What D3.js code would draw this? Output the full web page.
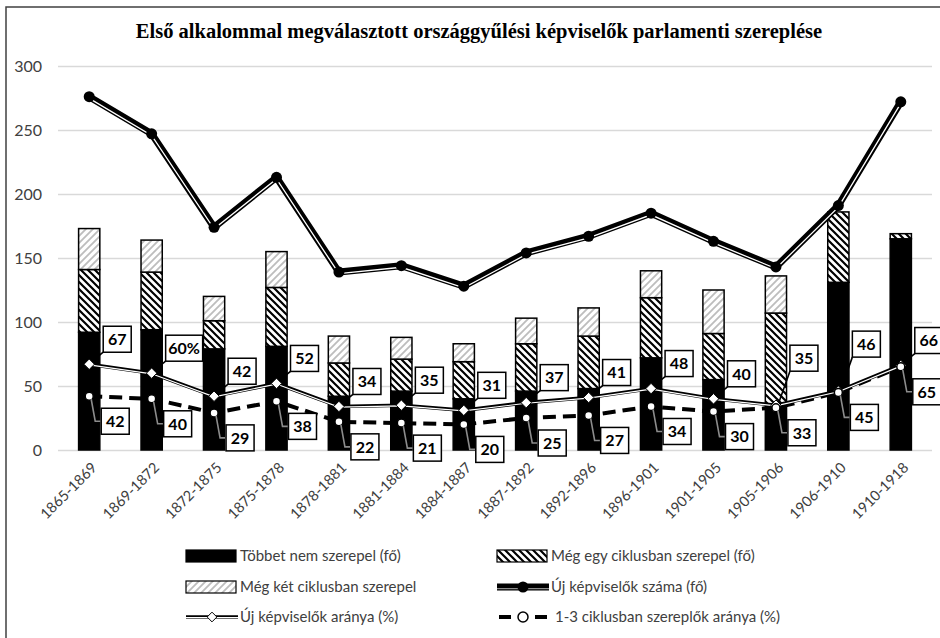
<!DOCTYPE html>
<html>
<head>
<meta charset="utf-8">
<script src="https://cdn.jsdelivr.net/npm/d3@7"></script>
<style>
  body { margin: 0; background: #fff; }
  text { font-family: Lato, 'Open Sans', sans-serif; }
</style>
</head>
<body>
<script>
// data
const categories = ["1865-1869", "1869-1872", "1872-1875", "1875-1878", "1878-1881", "1881-1884", "1884-1887",
  "1887-1892", "1892-1896", "1896-1901", "1901-1905", "1905-1906", "1906-1910", "1910-1918"];
const notAgain = [92, 94, 79, 81, 42, 46, 40, 46, 48, 72, 55, 36, 131, 165];   // Többet nem szerepel (fő)
const oneMore = [49, 45, 22, 46, 26, 25, 29, 37, 41, 47, 36, 71, 55, 4];       // Még egy ciklusban szerepel (fő)
const twoMore = [32, 25, 19, 28, 21, 17, 14, 20, 22, 21, 34, 29, 0, 0];        // Még két ciklusban szerepel
const newMembers = [276, 247, 174, 213, 139, 144, 128, 154, 167, 185, 163, 143, 191, 272]; // Új képviselők száma (fő)
const newShare = [67, 60, 42, 52, 34, 35, 31, 37, 41, 48, 40, 35, 46, 66];     // Új képviselők aránya (%)
const shortShare = [42, 40, 29, 38, 22, 21, 20, 25, 27, 34, 30, 33, 45, 65];   // 1-3 ciklusban szereplők aránya (%)
const yTicks = [0, 50, 100, 150, 200, 250, 300];

const title = "Első alkalommal megválasztott országgyűlési képviselők parlamenti szereplése";

let svg = null;
let x, y = null; // scales
const plot = {left: 58, right: 932, top: 66, bottom: 450};

appendSvg("body");
appendPatterns();
setupScales();
appendGrid();
appendYAxis();
appendXAxis();
appendBars();
appendLines();
appendLabels();
appendLegend();
appendTitle();

function appendSvg(domElement) {
  svg = d3.select(domElement).append("svg")
    .attr("width", 940)
    .attr("height", 638);
  svg.append("rect")
    .attr("x", 6).attr("y", 7)
    .attr("width", 960).attr("height", 660)
    .attr("fill", "#fff")
    .attr("stroke", "#404040")
    .attr("stroke-width", 1.5);
}

function appendPatterns() {
  const defs = svg.append("defs");
  // wide downward diagonal, black
  const dn = defs.append("pattern").attr("id", "dnDiag")
    .attr("patternUnits", "userSpaceOnUse").attr("width", 7).attr("height", 7);
  dn.append("rect").attr("width", 7).attr("height", 7).attr("fill", "#fff");
  dn.append("path").attr("d", "M-1,-1 L8,8 M-4.5,2.5 L1.5,8.5 M2.5,-4.5 L8.5,1.5")
    .attr("stroke", "#000").attr("stroke-width", 2.2);
  // light upward diagonal, grey
  const up = defs.append("pattern").attr("id", "upDiag")
    .attr("patternUnits", "userSpaceOnUse").attr("width", 7).attr("height", 7);
  up.append("rect").attr("width", 7).attr("height", 7).attr("fill", "#fff");
  up.append("path").attr("d", "M-1,8 L8,-1 M-4.5,4.5 L1.5,-1.5 M5.5,8.5 L8.5,5.5")
    .attr("stroke", "#bdbdbd").attr("stroke-width", 1.8);
}

function setupScales() {
  x = d3.scaleBand()
    .domain(categories)
    .range([plot.left, plot.right])
    .paddingInner(0.66)
    .paddingOuter(0.33);
  y = d3.scaleLinear()
    .domain([0, 300])
    .range([plot.bottom, plot.top]);
}

function cx(i) {
  return x(categories[i]) + x.bandwidth() / 2;
}

function appendGrid() {
  const g = svg.append("g")
    .attr("transform", `translate(${plot.left},0)`)
    .call(d3.axisLeft(y).tickValues(yTicks).tickSize(-(plot.right - plot.left)).tickFormat(""));
  g.select(".domain").remove();
  g.selectAll("line").attr("stroke", "#d9d9d9").attr("stroke-width", 1.5);
}

function appendYAxis() {
  const g = svg.append("g")
    .attr("transform", `translate(${plot.left},0)`)
    .call(d3.axisLeft(y).tickValues(yTicks).tickSize(0).tickPadding(16));
  g.select(".domain").remove();
  g.selectAll("text")
    .attr("fill", "#404040")
    .style("font-size", "16px")
    .style("font-family", "Lato, 'Open Sans', sans-serif");
}

function appendXAxis() {
  const g = svg.append("g")
    .attr("transform", `translate(0,${plot.bottom})`)
    .call(d3.axisBottom(x).tickSize(0));
  g.select(".domain").remove();
  g.selectAll("text")
    .attr("x", 0)
    .attr("y", 0)
    .attr("dy", "0.35em")
    .attr("text-anchor", "end")
    .attr("transform", "translate(5,15) rotate(-45)")
    .attr("fill", "#404040")
    .style("font-size", "14.5px")
    .style("font-family", "Lato, 'Open Sans', sans-serif");
}

function appendBars() {
  const table = categories.map((c, i) => ({cat: c, a: notAgain[i], b: oneMore[i], c2: twoMore[i]}));
  const stack = d3.stack().keys(["a", "b", "c2"])(table);
  const fills = {a: "#000", b: "url(#dnDiag)", c2: "url(#upDiag)"};

  svg.append("g").selectAll("g")
    .data(stack)
    .enter().append("g")
    .attr("fill", d => fills[d.key])
    .selectAll("rect")
    .data(d => d.filter(s => s[1] - s[0] > 0))
    .enter().append("rect")
    .attr("x", d => x(d.data.cat))
    .attr("y", d => y(d[1]))
    .attr("width", x.bandwidth())
    .attr("height", d => y(d[0]) - y(d[1]))
    .attr("stroke", "#000")
    .attr("stroke-width", 1.5);
}

function appendLines() {
  const idx = d3.range(categories.length);

  // 1-3 ciklusban szereplők aránya: dashed
  const dashLine = d3.line().x(i => cx(i)).y(i => y(shortShare[i]));
  svg.append("path").datum(idx)
    .attr("d", dashLine)
    .attr("fill", "none").attr("stroke", "#000")
    .attr("stroke-width", 4).attr("stroke-dasharray", "13 7");

  // Új képviselők aránya: thin double line
  const shareLine = d3.line().x(i => cx(i)).y(i => y(newShare[i]));
  svg.append("path").datum(idx)
    .attr("d", shareLine)
    .attr("fill", "none").attr("stroke", "#000").attr("stroke-width", 3.6);
  svg.append("path").datum(idx)
    .attr("d", shareLine)
    .attr("transform", "translate(0,0.6)")
    .attr("fill", "none").attr("stroke", "#fff").attr("stroke-width", 1.2);

  // Új képviselők száma: thick compound line
  const countLine = d3.line().x(i => cx(i)).y(i => y(newMembers[i]));
  svg.append("path").datum(idx)
    .attr("d", countLine)
    .attr("fill", "none").attr("stroke", "#000").attr("stroke-width", 7)
    .attr("stroke-linejoin", "round");
  svg.append("path").datum(idx)
    .attr("d", countLine)
    .attr("transform", "translate(0,1.6)")
    .attr("fill", "none").attr("stroke", "#fff").attr("stroke-width", 1.3);

  svg.append("g").selectAll("circle")
    .data(idx).enter().append("circle")
    .attr("cx", i => cx(i)).attr("cy", i => y(newMembers[i]))
    .attr("r", 5.5).attr("fill", "#000");

  svg.append("g").selectAll("path")
    .data(idx).enter().append("path")
    .attr("d", d3.symbol().type(d3.symbolDiamond2).size(70))
    .attr("transform", i => `translate(${cx(i)},${y(newShare[i])})`)
    .attr("fill", "#fff").attr("stroke", "#000").attr("stroke-width", 1);

  svg.append("g").selectAll("circle")
    .data(idx).enter().append("circle")
    .attr("cx", i => cx(i)).attr("cy", i => y(shortShare[i]))
    .attr("r", 4).attr("fill", "#fff").attr("stroke", "#000").attr("stroke-width", 1.5);
}

function labelBox(g, px, py, txt, above, lift) {
  const w = txt.length * 9 + 10, h = 26;
  const left = px + (above ? 14 : 12);
  const top = above ? py - 12 - h - lift : py + 12;
  if (above) {
    g.append("line")
      .attr("x1", px + 3).attr("y1", py - 3)
      .attr("x2", left).attr("y2", top + h)
      .attr("stroke", "#000").attr("stroke-width", 1.6);
  } else {
    g.append("polyline")
      .attr("points", `${px + 2},${py + 3} ${left - 6},${top + h / 2} ${left},${top + h / 2}`)
      .attr("fill", "none").attr("stroke", "#8c8c8c").attr("stroke-width", 1.6);
  }
  g.append("rect")
    .attr("x", left).attr("y", top).attr("width", w).attr("height", h)
    .attr("fill", "#fff").attr("stroke", "#000").attr("stroke-width", 1.5);
  g.append("text")
    .attr("x", left + w / 2).attr("y", top + h / 2)
    .attr("dy", "0.36em").attr("text-anchor", "middle")
    .attr("font-weight", "bold").attr("font-size", "16px").attr("fill", "#000")
    .text(txt);
}

function appendLabels() {
  const g = svg.append("g");
  categories.forEach((c, i) => {
    const lift = Math.abs(newShare[i] - shortShare[i]) < 5 && i < categories.length - 1 ? 22 : 0;
    labelBox(g, cx(i), y(shortShare[i]), String(shortShare[i]), false, 0);
    labelBox(g, cx(i), y(newShare[i]), i === 1 ? newShare[i] + "%" : String(newShare[i]), true, lift);
  });
}

function appendLegend() {
  const items = [
    {name: "Többet nem szerepel (fő)", kind: "bar", fill: "#000"},
    {name: "Még egy ciklusban szerepel (fő)", kind: "bar", fill: "url(#dnDiag)"},
    {name: "Még két ciklusban szerepel", kind: "bar", fill: "url(#upDiag)"},
    {name: "Új képviselők száma (fő)", kind: "count"},
    {name: "Új képviselők aránya (%)", kind: "share"},
    {name: "1-3 ciklusban szereplők aránya (%)", kind: "dash"}
  ];
  const colX = [186, 497], rowY = [556, 587, 617];

  const legend = svg.selectAll(".legend")
    .data(items).enter().append("g")
    .attr("class", "legend")
    .attr("transform", (d, i) => `translate(${colX[i % 2]},${rowY[Math.floor(i / 2)]})`);

  legend.each(function(d) {
    const g = d3.select(this);
    if (d.kind === "bar") {
      g.append("rect").attr("x", 0).attr("y", -6).attr("width", 50).attr("height", 12)
        .attr("fill", d.fill).attr("stroke", "#000").attr("stroke-width", 1.2);
    } else if (d.kind === "count") {
      g.append("line").attr("x1", 0).attr("x2", 52).attr("stroke", "#000").attr("stroke-width", 7);
      g.append("line").attr("x1", 0).attr("x2", 52).attr("y1", 1.6).attr("y2", 1.6)
        .attr("stroke", "#8c8c8c").attr("stroke-width", 1.3);
      g.append("circle").attr("cx", 26).attr("r", 5.5).attr("fill", "#000");
    } else if (d.kind === "share") {
      g.append("line").attr("x1", 0).attr("x2", 52).attr("stroke", "#000").attr("stroke-width", 3.6);
      g.append("line").attr("x1", 0).attr("x2", 52).attr("y1", 0.6).attr("y2", 0.6)
        .attr("stroke", "#fff").attr("stroke-width", 1.2);
      g.append("path").attr("d", d3.symbol().type(d3.symbolDiamond2).size(60))
        .attr("transform", "translate(26,0)")
        .attr("fill", "#fff").attr("stroke", "#000").attr("stroke-width", 1);
    } else {
      g.append("line").attr("x1", 2).attr("x2", 14).attr("stroke", "#000").attr("stroke-width", 4);
      g.append("line").attr("x1", 38).attr("x2", 50).attr("stroke", "#000").attr("stroke-width", 4);
      g.append("circle").attr("cx", 26).attr("r", 5).attr("fill", "#fff")
        .attr("stroke", "#000").attr("stroke-width", 1.5);
    }
    g.append("text")
      .attr("x", d.kind === "dash" ? 58 : 54).attr("y", 0).attr("dy", "0.35em")
      .attr("fill", "#404040").attr("font-size", "15px")
      .text(d.name);
  });
}

function appendTitle() {
  svg.append("text")
    .attr("x", 479).attr("y", 38)
    .attr("text-anchor", "middle")
    .style("font-family", "'Liberation Serif', 'DejaVu Serif', serif")
    .attr("font-weight", "bold")
    .attr("font-size", "20.5px")
    .attr("fill", "#000")
    .text(title);
}
</script>
</body>
</html>
